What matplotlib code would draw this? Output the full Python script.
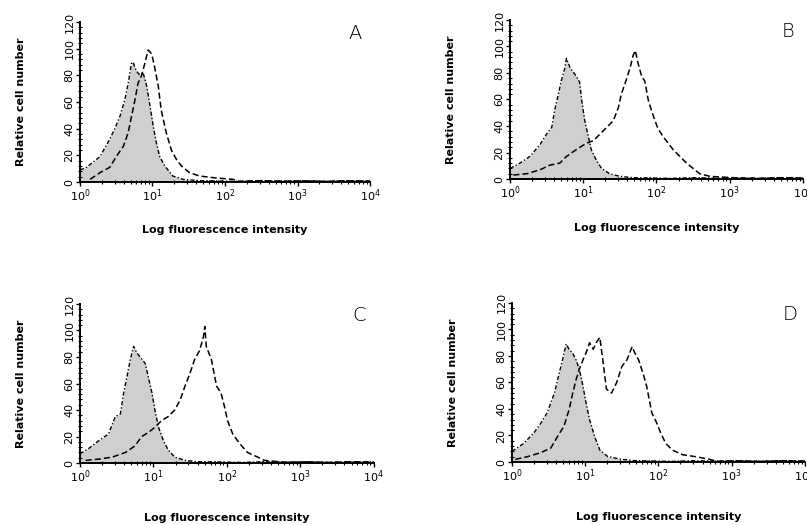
import numpy as np
import matplotlib
matplotlib.use("Agg")
import matplotlib.pyplot as plt
from matplotlib.ticker import MultipleLocator, LogLocator, NullFormatter


# ===================== Data =====================
# x positions in decades (log10 of fluorescence), y = relative cell number
tail_x = [1.9, 2.2, 2.5, 2.8, 3.1, 3.4, 3.7, 4.0]
tail_y = [0.8, 0.5, 1.0, 0.6, 0.9, 0.5, 1.0, 0.7]

ctrl_a_x = [0.0, 0.09, 0.275, 0.41, 0.48, 0.55, 0.62, 0.665, 0.71, 0.73, 0.78,
            0.83, 0.87, 0.92, 0.96, 1.01, 1.055, 1.10, 1.17, 1.28, 1.42, 1.65]
ctrl_a_y = [9, 11, 19, 32, 40, 49, 62, 74, 89, 90, 83,
            80, 82, 72, 59, 42, 29, 19, 12, 4.5, 2, 1]
samp_a_x = [0.14, 0.275, 0.41, 0.50, 0.60, 0.665, 0.71, 0.76, 0.80, 0.85, 0.895,
            0.94, 0.99, 1.03, 1.08, 1.12, 1.19, 1.26, 1.33, 1.40, 1.51, 1.65,
            1.88, 2.11]
samp_a_y = [2, 7, 11, 19, 27, 37, 49, 62, 74, 80, 89,
            99, 96, 86, 72, 54, 37, 24, 17, 12, 7, 4.5,
            3, 2]

ctrl_b_x = [0.0, 0.136, 0.27, 0.41, 0.50, 0.57, 0.61, 0.66, 0.70, 0.75, 0.77,
            0.82, 0.86, 0.91, 0.95, 0.98, 1.02, 1.07, 1.11, 1.18, 1.25, 1.36,
            1.50, 1.68]
ctrl_b_y = [8, 12, 17, 26, 34, 39, 52, 64, 74, 84, 91,
            84, 81, 77, 73, 59, 44, 32, 22, 14, 8, 4,
            2, 1]
samp_b_x = [0.045, 0.23, 0.41, 0.545, 0.68, 0.77, 0.86, 0.955, 1.045, 1.14,
            1.23, 1.32, 1.41, 1.48, 1.52, 1.57, 1.64, 1.68, 1.71, 1.75, 1.80,
            1.84, 1.89, 1.93, 1.98, 2.02, 2.09, 2.16, 2.23, 2.32, 2.41, 2.50,
            2.59, 2.73, 3.05]
samp_b_y = [3, 4, 7, 10.5, 12, 17, 20.5, 24, 27, 29,
            34, 39, 44, 54, 64, 72, 84, 93, 97, 87, 77,
            74, 59, 52, 44, 38, 32, 27, 22, 17, 12, 8,
            4, 2, 1]

ctrl_c_x = [0.0, 0.12, 0.26, 0.39, 0.48, 0.55, 0.595, 0.64, 0.685, 0.73, 0.775,
            0.82, 0.89, 0.93, 0.98, 1.02, 1.07, 1.135, 1.20, 1.29, 1.43, 1.61]
ctrl_c_y = [7, 11, 17, 22, 35, 37, 53, 65, 78, 88, 83,
            80, 75, 65, 53, 40, 27, 17, 10, 4.5, 2, 1]
samp_c_x = [0.077, 0.26, 0.44, 0.62, 0.75, 0.84, 0.93, 1.02, 1.11, 1.20,
            1.29, 1.36, 1.43, 1.50, 1.56, 1.63, 1.68, 1.70, 1.72, 1.79,
            1.86, 1.92, 1.97, 2.01, 2.08, 2.17, 2.28, 2.42, 2.51]
samp_c_y = [2, 3, 4.5, 8, 13, 20, 23, 27, 32, 35,
            40, 47, 58, 68, 78, 85, 95, 103, 88, 78,
            58, 53, 42, 32, 22, 15, 8, 4.5, 2]

ctrl_d_x = [0.0, 0.16, 0.30, 0.39, 0.48, 0.58, 0.645, 0.69, 0.74, 0.78, 0.83,
            0.875, 0.92, 0.97, 1.01, 1.06, 1.13, 1.20, 1.31, 1.50, 1.68]
ctrl_d_y = [8, 14, 22, 29, 37, 52, 67, 77, 89, 85, 82,
            77, 70, 57, 45, 32, 19, 9, 4, 2, 1]
samp_d_x = [0.046, 0.21, 0.39, 0.53, 0.62, 0.71, 0.78, 0.83, 0.875, 0.92,
            0.97, 1.01, 1.06, 1.11, 1.15, 1.20, 1.24, 1.29, 1.36, 1.43,
            1.50, 1.57, 1.64, 1.68, 1.73, 1.80, 1.84, 1.91, 1.98, 2.03,
            2.10, 2.19, 2.33, 2.51, 2.70]
samp_d_y = [2, 4, 7, 10.5, 19, 27, 39.5, 52, 62, 70,
            77, 82, 90, 85, 90, 94, 77, 55, 52, 60,
            72, 77, 87, 82, 77, 65, 57, 37, 29, 22,
            14, 9, 5.5, 4, 2]

panel_labels = ["A", "B", "C", "D"]
y_ticks = [0, 20, 40, 60, 80, 100, 120]


# ===================== Plot =====================
def add_tail(xs, ys):
    # flat noisy baseline after the last read point, out to 10^4
    xs_full = list(xs) + [t for t in tail_x if t > xs[-1]]
    ys_full = list(ys) + [v for t, v in zip(tail_x, tail_y) if t > xs[-1]]
    return np.power(10.0, xs_full), np.array(ys_full)


def draw_panel(ax, ctrl_x, ctrl_y, samp_x, samp_y, label, xlabel_pad):
    cx, cy = add_tail(ctrl_x, ctrl_y)
    sx, sy = add_tail(samp_x, samp_y)

    ax.fill_between(cx, 0, cy, color="#cfcfcf", lw=0)
    ax.plot(cx, cy, color="black", lw=1.0, ls=(0, (3, 1.5, 1, 1.5)))
    ax.plot(sx, sy, color="black", lw=1.1, ls=(0, (4, 2)))

    ax.set_xscale("log")
    ax.set_xlim(1, 1e4)
    ax.set_ylim(0, 120)

    ax.spines["top"].set_visible(False)
    ax.spines["right"].set_visible(False)
    ax.spines["left"].set_linewidth(1.4)
    ax.spines["bottom"].set_linewidth(1.4)

    ax.set_yticks(y_ticks)
    ax.yaxis.set_minor_locator(MultipleLocator(4))
    ax.xaxis.set_major_locator(LogLocator(base=10, numticks=10))
    ax.xaxis.set_minor_locator(LogLocator(base=10, subs=np.arange(2, 10), numticks=10))
    ax.xaxis.set_minor_formatter(NullFormatter())

    ax.tick_params(axis="both", which="major", direction="out", length=3,
                   width=1.0, labelsize=8, pad=1)
    ax.tick_params(axis="both", which="minor", direction="inout", length=3, width=0.8)
    for t in ax.get_yticklabels():
        t.set_rotation(90)
        t.set_va("center")

    ax.set_xlabel("Log fluorescence intensity", fontsize=8, fontweight="bold",
                  labelpad=xlabel_pad)
    ax.set_ylabel("Relative cell number", fontsize=8, fontweight="bold", labelpad=28)

    ax.text(0.95, 0.93, label, transform=ax.transAxes, fontsize=14,
            fontweight="light", ha="center", va="center", clip_on=False)


fig = plt.figure(figsize=(8.07, 5.25), dpi=100)

boxes = [
    [0.0991, 0.6533, 0.3594, 0.3048],
    [0.6320, 0.6590, 0.3630, 0.3030],
    [0.0991, 0.1180, 0.3640, 0.3030],
    [0.6344, 0.1200, 0.3630, 0.3030],
]
label_pads = [15, 16, 20, 20]
series = [
    (ctrl_a_x, ctrl_a_y, samp_a_x, samp_a_y),
    (ctrl_b_x, ctrl_b_y, samp_b_x, samp_b_y),
    (ctrl_c_x, ctrl_c_y, samp_c_x, samp_c_y),
    (ctrl_d_x, ctrl_d_y, samp_d_x, samp_d_y),
]

for box, data, label, pad in zip(boxes, series, panel_labels, label_pads):
    ax = fig.add_axes(box)
    draw_panel(ax, *data, label, pad)

fig.savefig("out.png", dpi=100)
